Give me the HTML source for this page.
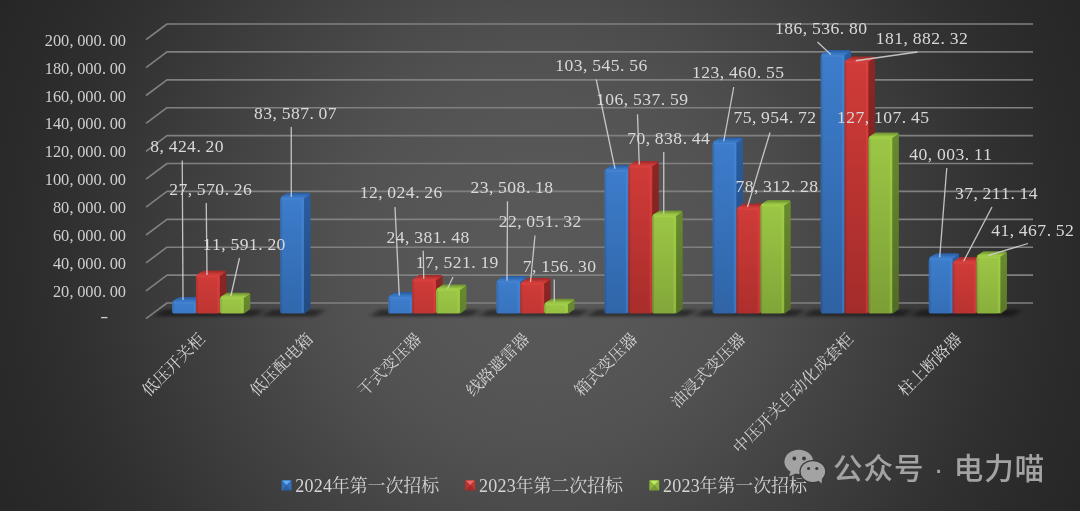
<!DOCTYPE html>
<html lang="zh-CN"><head><meta charset="utf-8"><title>chart</title>
<style>html,body{margin:0;padding:0;background:#262626;}body{width:1080px;height:511px;overflow:hidden;}svg{display:block;}</style>
</head><body>
<svg width="1080" height="511" viewBox="0 0 1080 511">
<defs>
<radialGradient id="bg" gradientUnits="userSpaceOnUse" cx="540" cy="255.5" r="597.4"><stop offset="0" stop-color="rgb(89,89,89)"/><stop offset="0.1" stop-color="rgb(88,88,88)"/><stop offset="0.206" stop-color="rgb(86,86,86)"/><stop offset="0.32" stop-color="rgb(82,82,82)"/><stop offset="0.414" stop-color="rgb(76,76,76)"/><stop offset="0.476" stop-color="rgb(71,71,71)"/><stop offset="0.625" stop-color="rgb(60,60,60)"/><stop offset="0.787" stop-color="rgb(48,48,48)"/><stop offset="0.9" stop-color="rgb(42,42,42)"/><stop offset="0.963" stop-color="rgb(40,40,40)"/><stop offset="1" stop-color="rgb(38,38,38)"/></radialGradient>
<filter id="sh" x="-20%" y="-200%" width="140%" height="500%"><feGaussianBlur stdDeviation="3 1.4"/></filter>
</defs>
<rect width="1080" height="511" fill="url(#bg)"/>
<g fill="none" stroke="#808080" stroke-width="1.65" stroke-linejoin="round">
<path d="M146.00 318.70L167.00 303.00H1033.00"/>
<path d="M146.00 290.80L167.00 275.10H1033.00"/>
<path d="M146.00 262.90L167.00 247.20H1033.00"/>
<path d="M146.00 235.00L167.00 219.30H1033.00"/>
<path d="M146.00 207.10L167.00 191.40H1033.00"/>
<path d="M146.00 179.20L167.00 163.50H1033.00"/>
<path d="M146.00 151.30L167.00 135.60H1033.00"/>
<path d="M146.00 123.40L167.00 107.70H1033.00"/>
<path d="M146.00 95.50L167.00 79.80H1033.00"/>
<path d="M146.00 67.60L167.00 51.90H1033.00"/>
<path d="M146.00 39.70L167.00 24.00H1033.00"/>
</g>
<g filter="url(#sh)" fill="#000" fill-opacity="0.46">
<path d="M154.1 316.4L255.8 316.4L264.8 309.4L163.1 309.4Z"/>
<path d="M262.1 316.4L316.0 316.4L325.0 309.4L271.1 309.4Z"/>
<path d="M370.2 316.4L471.9 316.4L480.9 309.4L379.2 309.4Z"/>
<path d="M478.4 316.4L580.0 316.4L589.0 309.4L487.4 309.4Z"/>
<path d="M586.4 316.4L688.1 316.4L697.1 309.4L595.4 309.4Z"/>
<path d="M694.5 316.4L796.2 316.4L805.2 309.4L703.5 309.4Z"/>
<path d="M802.6 316.4L904.3 316.4L913.3 309.4L811.6 309.4Z"/>
<path d="M910.8 316.4L1012.5 316.4L1021.5 309.4L919.8 309.4Z"/>
</g>
<linearGradient id="f1" gradientUnits="userSpaceOnUse" x1="0" y1="301.9" x2="0" y2="313.6"><stop offset="0" stop-color="#3d7dcc"/><stop offset="1" stop-color="#3b79c6"/></linearGradient>
<linearGradient id="s1" gradientUnits="userSpaceOnUse" x1="0" y1="301.9" x2="0" y2="313.6"><stop offset="0" stop-color="#2a5c9f"/><stop offset="1" stop-color="#28599a"/></linearGradient>
<linearGradient id="t1" gradientUnits="userSpaceOnUse" x1="0" y1="301.9" x2="0" y2="297.0"><stop offset="0.15" stop-color="#3b7ac9"/><stop offset="0.9" stop-color="#295ea4"/></linearGradient>
<path d="M195.95 302.92L201.45 298.82L201.45 308.40L195.95 312.60Z" fill="url(#s1)" stroke="url(#s1)" stroke-width="2.0" stroke-linejoin="round"/>
<path d="M173.65 301.92L179.55 298.02L200.85 298.02L194.95 301.92Z" fill="url(#t1)" stroke="url(#t1)" stroke-width="2.0" stroke-linejoin="round"/>
<rect x="172.05" y="301.92" width="23.90" height="11.68" rx="1.8" fill="url(#f1)"/>
<rect x="193.35" y="302.72" width="2.2" height="10.08" fill="#4c8cdc" fill-opacity="0.45"/>
<rect x="172.35" y="302.72" width="1.6" height="10.08" fill="#000" fill-opacity="0.10"/>
<rect x="173.25" y="302.22" width="21.50" height="1.5" rx="0.7" fill="#4c8cdc" fill-opacity="0.5"/>
<linearGradient id="f2" gradientUnits="userSpaceOnUse" x1="0" y1="275.4" x2="0" y2="313.6"><stop offset="0" stop-color="#d03b38"/><stop offset="1" stop-color="#bd3532"/></linearGradient>
<linearGradient id="s2" gradientUnits="userSpaceOnUse" x1="0" y1="275.4" x2="0" y2="313.6"><stop offset="0" stop-color="#8c2625"/><stop offset="1" stop-color="#7f2221"/></linearGradient>
<linearGradient id="t2" gradientUnits="userSpaceOnUse" x1="0" y1="275.4" x2="0" y2="270.5"><stop offset="0.15" stop-color="#d33c39"/><stop offset="0.9" stop-color="#9f2c2a"/></linearGradient>
<path d="M219.85 276.37L225.35 272.27L225.35 308.40L219.85 312.60Z" fill="url(#s2)" stroke="url(#s2)" stroke-width="2.0" stroke-linejoin="round"/>
<path d="M197.55 275.37L203.45 271.47L224.75 271.47L218.85 275.37Z" fill="url(#t2)" stroke="url(#t2)" stroke-width="2.0" stroke-linejoin="round"/>
<rect x="195.95" y="275.37" width="23.90" height="38.23" rx="1.8" fill="url(#f2)"/>
<rect x="217.25" y="276.17" width="2.2" height="36.63" fill="#e04845" fill-opacity="0.45"/>
<rect x="196.25" y="276.17" width="1.6" height="36.63" fill="#000" fill-opacity="0.10"/>
<rect x="197.15" y="275.67" width="21.50" height="1.5" rx="0.7" fill="#e04845" fill-opacity="0.5"/>
<linearGradient id="f3" gradientUnits="userSpaceOnUse" x1="0" y1="297.5" x2="0" y2="313.6"><stop offset="0" stop-color="#9cc745"/><stop offset="1" stop-color="#95be42"/></linearGradient>
<linearGradient id="s3" gradientUnits="userSpaceOnUse" x1="0" y1="297.5" x2="0" y2="313.6"><stop offset="0" stop-color="#688a2e"/><stop offset="1" stop-color="#63832c"/></linearGradient>
<linearGradient id="t3" gradientUnits="userSpaceOnUse" x1="0" y1="297.5" x2="0" y2="292.6"><stop offset="0.15" stop-color="#9ecc46"/><stop offset="0.9" stop-color="#6f9132"/></linearGradient>
<path d="M243.75 298.53L249.25 294.43L249.25 308.40L243.75 312.60Z" fill="url(#s3)" stroke="url(#s3)" stroke-width="2.0" stroke-linejoin="round"/>
<path d="M221.45 297.53L227.35 293.63L248.65 293.63L242.75 297.53Z" fill="url(#t3)" stroke="url(#t3)" stroke-width="2.0" stroke-linejoin="round"/>
<rect x="219.85" y="297.53" width="23.90" height="16.07" rx="1.8" fill="url(#f3)"/>
<rect x="241.15" y="298.33" width="2.2" height="14.47" fill="#a9d54e" fill-opacity="0.45"/>
<rect x="220.15" y="298.33" width="1.6" height="14.47" fill="#000" fill-opacity="0.10"/>
<rect x="221.05" y="297.83" width="21.50" height="1.5" rx="0.7" fill="#a9d54e" fill-opacity="0.5"/>
<linearGradient id="f4" gradientUnits="userSpaceOnUse" x1="0" y1="197.7" x2="0" y2="313.6"><stop offset="0" stop-color="#3d7dcc"/><stop offset="1" stop-color="#3167ab"/></linearGradient>
<linearGradient id="s4" gradientUnits="userSpaceOnUse" x1="0" y1="197.7" x2="0" y2="313.6"><stop offset="0" stop-color="#2a5c9f"/><stop offset="1" stop-color="#214b81"/></linearGradient>
<linearGradient id="t4" gradientUnits="userSpaceOnUse" x1="0" y1="197.7" x2="0" y2="192.8"><stop offset="0.15" stop-color="#3b7ac9"/><stop offset="0.9" stop-color="#295ea4"/></linearGradient>
<path d="M304.05 198.70L309.55 194.60L309.55 308.40L304.05 312.60Z" fill="url(#s4)" stroke="url(#s4)" stroke-width="2.0" stroke-linejoin="round"/>
<path d="M281.75 197.70L287.65 193.80L308.95 193.80L303.05 197.70Z" fill="url(#t4)" stroke="url(#t4)" stroke-width="2.0" stroke-linejoin="round"/>
<rect x="280.15" y="197.70" width="23.90" height="115.90" rx="1.8" fill="url(#f4)"/>
<rect x="301.45" y="198.50" width="2.2" height="114.30" fill="#4c8cdc" fill-opacity="0.45"/>
<rect x="280.45" y="198.50" width="1.6" height="114.30" fill="#000" fill-opacity="0.10"/>
<rect x="281.35" y="198.00" width="21.50" height="1.5" rx="0.7" fill="#4c8cdc" fill-opacity="0.5"/>
<linearGradient id="f5" gradientUnits="userSpaceOnUse" x1="0" y1="296.9" x2="0" y2="313.6"><stop offset="0" stop-color="#3d7dcc"/><stop offset="1" stop-color="#3a77c4"/></linearGradient>
<linearGradient id="s5" gradientUnits="userSpaceOnUse" x1="0" y1="296.9" x2="0" y2="313.6"><stop offset="0" stop-color="#2a5c9f"/><stop offset="1" stop-color="#285897"/></linearGradient>
<linearGradient id="t5" gradientUnits="userSpaceOnUse" x1="0" y1="296.9" x2="0" y2="292.0"><stop offset="0.15" stop-color="#3b7ac9"/><stop offset="0.9" stop-color="#295ea4"/></linearGradient>
<path d="M412.15 297.93L417.65 293.83L417.65 308.40L412.15 312.60Z" fill="url(#s5)" stroke="url(#s5)" stroke-width="2.0" stroke-linejoin="round"/>
<path d="M389.85 296.93L395.75 293.03L417.05 293.03L411.15 296.93Z" fill="url(#t5)" stroke="url(#t5)" stroke-width="2.0" stroke-linejoin="round"/>
<rect x="388.25" y="296.93" width="23.90" height="16.67" rx="1.8" fill="url(#f5)"/>
<rect x="409.55" y="297.73" width="2.2" height="15.07" fill="#4c8cdc" fill-opacity="0.45"/>
<rect x="388.55" y="297.73" width="1.6" height="15.07" fill="#000" fill-opacity="0.10"/>
<rect x="389.45" y="297.23" width="21.50" height="1.5" rx="0.7" fill="#4c8cdc" fill-opacity="0.5"/>
<linearGradient id="f6" gradientUnits="userSpaceOnUse" x1="0" y1="279.8" x2="0" y2="313.6"><stop offset="0" stop-color="#d03b38"/><stop offset="1" stop-color="#bf3533"/></linearGradient>
<linearGradient id="s6" gradientUnits="userSpaceOnUse" x1="0" y1="279.8" x2="0" y2="313.6"><stop offset="0" stop-color="#8c2625"/><stop offset="1" stop-color="#802221"/></linearGradient>
<linearGradient id="t6" gradientUnits="userSpaceOnUse" x1="0" y1="279.8" x2="0" y2="274.9"><stop offset="0.15" stop-color="#d33c39"/><stop offset="0.9" stop-color="#9f2c2a"/></linearGradient>
<path d="M436.05 280.79L441.55 276.69L441.55 308.40L436.05 312.60Z" fill="url(#s6)" stroke="url(#s6)" stroke-width="2.0" stroke-linejoin="round"/>
<path d="M413.75 279.79L419.65 275.89L440.95 275.89L435.05 279.79Z" fill="url(#t6)" stroke="url(#t6)" stroke-width="2.0" stroke-linejoin="round"/>
<rect x="412.15" y="279.79" width="23.90" height="33.81" rx="1.8" fill="url(#f6)"/>
<rect x="433.45" y="280.59" width="2.2" height="32.21" fill="#e04845" fill-opacity="0.45"/>
<rect x="412.45" y="280.59" width="1.6" height="32.21" fill="#000" fill-opacity="0.10"/>
<rect x="413.35" y="280.09" width="21.50" height="1.5" rx="0.7" fill="#e04845" fill-opacity="0.5"/>
<linearGradient id="f7" gradientUnits="userSpaceOnUse" x1="0" y1="289.3" x2="0" y2="313.6"><stop offset="0" stop-color="#9cc745"/><stop offset="1" stop-color="#92bb40"/></linearGradient>
<linearGradient id="s7" gradientUnits="userSpaceOnUse" x1="0" y1="289.3" x2="0" y2="313.6"><stop offset="0" stop-color="#688a2e"/><stop offset="1" stop-color="#61812b"/></linearGradient>
<linearGradient id="t7" gradientUnits="userSpaceOnUse" x1="0" y1="289.3" x2="0" y2="284.4"><stop offset="0.15" stop-color="#9ecc46"/><stop offset="0.9" stop-color="#6f9132"/></linearGradient>
<path d="M459.95 290.30L465.45 286.20L465.45 308.40L459.95 312.60Z" fill="url(#s7)" stroke="url(#s7)" stroke-width="2.0" stroke-linejoin="round"/>
<path d="M437.65 289.30L443.55 285.40L464.85 285.40L458.95 289.30Z" fill="url(#t7)" stroke="url(#t7)" stroke-width="2.0" stroke-linejoin="round"/>
<rect x="436.05" y="289.30" width="23.90" height="24.30" rx="1.8" fill="url(#f7)"/>
<rect x="457.35" y="290.10" width="2.2" height="22.70" fill="#a9d54e" fill-opacity="0.45"/>
<rect x="436.35" y="290.10" width="1.6" height="22.70" fill="#000" fill-opacity="0.10"/>
<rect x="437.25" y="289.60" width="21.50" height="1.5" rx="0.7" fill="#a9d54e" fill-opacity="0.5"/>
<linearGradient id="f8" gradientUnits="userSpaceOnUse" x1="0" y1="281.0" x2="0" y2="313.6"><stop offset="0" stop-color="#3d7dcc"/><stop offset="1" stop-color="#3873bd"/></linearGradient>
<linearGradient id="s8" gradientUnits="userSpaceOnUse" x1="0" y1="281.0" x2="0" y2="313.6"><stop offset="0" stop-color="#2a5c9f"/><stop offset="1" stop-color="#265492"/></linearGradient>
<linearGradient id="t8" gradientUnits="userSpaceOnUse" x1="0" y1="281.0" x2="0" y2="276.1"><stop offset="0.15" stop-color="#3b7ac9"/><stop offset="0.9" stop-color="#295ea4"/></linearGradient>
<path d="M520.25 282.00L525.75 277.90L525.75 308.40L520.25 312.60Z" fill="url(#s8)" stroke="url(#s8)" stroke-width="2.0" stroke-linejoin="round"/>
<path d="M497.95 281.00L503.85 277.10L525.15 277.10L519.25 281.00Z" fill="url(#t8)" stroke="url(#t8)" stroke-width="2.0" stroke-linejoin="round"/>
<rect x="496.35" y="281.00" width="23.90" height="32.60" rx="1.8" fill="url(#f8)"/>
<rect x="517.65" y="281.80" width="2.2" height="31.00" fill="#4c8cdc" fill-opacity="0.45"/>
<rect x="496.65" y="281.80" width="1.6" height="31.00" fill="#000" fill-opacity="0.10"/>
<rect x="497.55" y="281.30" width="21.50" height="1.5" rx="0.7" fill="#4c8cdc" fill-opacity="0.5"/>
<linearGradient id="f9" gradientUnits="userSpaceOnUse" x1="0" y1="283.0" x2="0" y2="313.6"><stop offset="0" stop-color="#d03b38"/><stop offset="1" stop-color="#c03633"/></linearGradient>
<linearGradient id="s9" gradientUnits="userSpaceOnUse" x1="0" y1="283.0" x2="0" y2="313.6"><stop offset="0" stop-color="#8c2625"/><stop offset="1" stop-color="#812322"/></linearGradient>
<linearGradient id="t9" gradientUnits="userSpaceOnUse" x1="0" y1="283.0" x2="0" y2="278.1"><stop offset="0.15" stop-color="#d33c39"/><stop offset="0.9" stop-color="#9f2c2a"/></linearGradient>
<path d="M544.15 284.02L549.65 279.92L549.65 308.40L544.15 312.60Z" fill="url(#s9)" stroke="url(#s9)" stroke-width="2.0" stroke-linejoin="round"/>
<path d="M521.85 283.02L527.75 279.12L549.05 279.12L543.15 283.02Z" fill="url(#t9)" stroke="url(#t9)" stroke-width="2.0" stroke-linejoin="round"/>
<rect x="520.25" y="283.02" width="23.90" height="30.58" rx="1.8" fill="url(#f9)"/>
<rect x="541.55" y="283.82" width="2.2" height="28.98" fill="#e04845" fill-opacity="0.45"/>
<rect x="520.55" y="283.82" width="1.6" height="28.98" fill="#000" fill-opacity="0.10"/>
<rect x="521.45" y="283.32" width="21.50" height="1.5" rx="0.7" fill="#e04845" fill-opacity="0.5"/>
<linearGradient id="f10" gradientUnits="userSpaceOnUse" x1="0" y1="303.7" x2="0" y2="313.6"><stop offset="0" stop-color="#9cc745"/><stop offset="1" stop-color="#98c143"/></linearGradient>
<linearGradient id="s10" gradientUnits="userSpaceOnUse" x1="0" y1="303.7" x2="0" y2="313.6"><stop offset="0" stop-color="#688a2e"/><stop offset="1" stop-color="#65862d"/></linearGradient>
<linearGradient id="t10" gradientUnits="userSpaceOnUse" x1="0" y1="303.7" x2="0" y2="298.8"><stop offset="0.15" stop-color="#9ecc46"/><stop offset="0.9" stop-color="#6f9132"/></linearGradient>
<path d="M568.05 304.68L573.55 300.58L573.55 308.40L568.05 312.60Z" fill="url(#s10)" stroke="url(#s10)" stroke-width="2.0" stroke-linejoin="round"/>
<path d="M545.75 303.68L551.65 299.78L572.95 299.78L567.05 303.68Z" fill="url(#t10)" stroke="url(#t10)" stroke-width="2.0" stroke-linejoin="round"/>
<rect x="544.15" y="303.68" width="23.90" height="9.92" rx="1.8" fill="url(#f10)"/>
<rect x="565.45" y="304.48" width="2.2" height="8.32" fill="#a9d54e" fill-opacity="0.45"/>
<rect x="544.45" y="304.48" width="1.6" height="8.32" fill="#000" fill-opacity="0.10"/>
<rect x="545.35" y="303.98" width="21.50" height="1.5" rx="0.7" fill="#a9d54e" fill-opacity="0.5"/>
<linearGradient id="f11" gradientUnits="userSpaceOnUse" x1="0" y1="170.0" x2="0" y2="313.6"><stop offset="0" stop-color="#3d7dcc"/><stop offset="1" stop-color="#3065a8"/></linearGradient>
<linearGradient id="s11" gradientUnits="userSpaceOnUse" x1="0" y1="170.0" x2="0" y2="313.6"><stop offset="0" stop-color="#2a5c9f"/><stop offset="1" stop-color="#21497f"/></linearGradient>
<linearGradient id="t11" gradientUnits="userSpaceOnUse" x1="0" y1="170.0" x2="0" y2="165.1"><stop offset="0.15" stop-color="#3b7ac9"/><stop offset="0.9" stop-color="#295ea4"/></linearGradient>
<path d="M628.35 171.02L633.85 166.92L633.85 308.40L628.35 312.60Z" fill="url(#s11)" stroke="url(#s11)" stroke-width="2.0" stroke-linejoin="round"/>
<path d="M606.05 170.02L611.95 166.12L633.25 166.12L627.35 170.02Z" fill="url(#t11)" stroke="url(#t11)" stroke-width="2.0" stroke-linejoin="round"/>
<rect x="604.45" y="170.02" width="23.90" height="143.58" rx="1.8" fill="url(#f11)"/>
<rect x="625.75" y="170.82" width="2.2" height="141.98" fill="#4c8cdc" fill-opacity="0.45"/>
<rect x="604.75" y="170.82" width="1.6" height="141.98" fill="#000" fill-opacity="0.10"/>
<rect x="605.65" y="170.32" width="21.50" height="1.5" rx="0.7" fill="#4c8cdc" fill-opacity="0.5"/>
<linearGradient id="f12" gradientUnits="userSpaceOnUse" x1="0" y1="165.9" x2="0" y2="313.6"><stop offset="0" stop-color="#d03b38"/><stop offset="1" stop-color="#a82d2b"/></linearGradient>
<linearGradient id="s12" gradientUnits="userSpaceOnUse" x1="0" y1="165.9" x2="0" y2="313.6"><stop offset="0" stop-color="#8c2625"/><stop offset="1" stop-color="#701d1c"/></linearGradient>
<linearGradient id="t12" gradientUnits="userSpaceOnUse" x1="0" y1="165.9" x2="0" y2="161.0"><stop offset="0.15" stop-color="#d33c39"/><stop offset="0.9" stop-color="#9f2c2a"/></linearGradient>
<path d="M652.25 166.87L657.75 162.77L657.75 308.40L652.25 312.60Z" fill="url(#s12)" stroke="url(#s12)" stroke-width="2.0" stroke-linejoin="round"/>
<path d="M629.95 165.87L635.85 161.97L657.15 161.97L651.25 165.87Z" fill="url(#t12)" stroke="url(#t12)" stroke-width="2.0" stroke-linejoin="round"/>
<rect x="628.35" y="165.87" width="23.90" height="147.73" rx="1.8" fill="url(#f12)"/>
<rect x="649.65" y="166.67" width="2.2" height="146.13" fill="#e04845" fill-opacity="0.45"/>
<rect x="628.65" y="166.67" width="1.6" height="146.13" fill="#000" fill-opacity="0.10"/>
<rect x="629.55" y="166.17" width="21.50" height="1.5" rx="0.7" fill="#e04845" fill-opacity="0.5"/>
<linearGradient id="f13" gradientUnits="userSpaceOnUse" x1="0" y1="215.4" x2="0" y2="313.6"><stop offset="0" stop-color="#9cc745"/><stop offset="1" stop-color="#82a639"/></linearGradient>
<linearGradient id="s13" gradientUnits="userSpaceOnUse" x1="0" y1="215.4" x2="0" y2="313.6"><stop offset="0" stop-color="#688a2e"/><stop offset="1" stop-color="#567126"/></linearGradient>
<linearGradient id="t13" gradientUnits="userSpaceOnUse" x1="0" y1="215.4" x2="0" y2="210.5"><stop offset="0.15" stop-color="#9ecc46"/><stop offset="0.9" stop-color="#6f9132"/></linearGradient>
<path d="M676.15 216.37L681.65 212.27L681.65 308.40L676.15 312.60Z" fill="url(#s13)" stroke="url(#s13)" stroke-width="2.0" stroke-linejoin="round"/>
<path d="M653.85 215.37L659.75 211.47L681.05 211.47L675.15 215.37Z" fill="url(#t13)" stroke="url(#t13)" stroke-width="2.0" stroke-linejoin="round"/>
<rect x="652.25" y="215.37" width="23.90" height="98.23" rx="1.8" fill="url(#f13)"/>
<rect x="673.55" y="216.17" width="2.2" height="96.63" fill="#a9d54e" fill-opacity="0.45"/>
<rect x="652.55" y="216.17" width="1.6" height="96.63" fill="#000" fill-opacity="0.10"/>
<rect x="653.45" y="215.67" width="21.50" height="1.5" rx="0.7" fill="#a9d54e" fill-opacity="0.5"/>
<linearGradient id="f14" gradientUnits="userSpaceOnUse" x1="0" y1="142.4" x2="0" y2="313.6"><stop offset="0" stop-color="#3d7dcc"/><stop offset="1" stop-color="#3064a6"/></linearGradient>
<linearGradient id="s14" gradientUnits="userSpaceOnUse" x1="0" y1="142.4" x2="0" y2="313.6"><stop offset="0" stop-color="#2a5c9f"/><stop offset="1" stop-color="#20487d"/></linearGradient>
<linearGradient id="t14" gradientUnits="userSpaceOnUse" x1="0" y1="142.4" x2="0" y2="137.5"><stop offset="0.15" stop-color="#3b7ac9"/><stop offset="0.9" stop-color="#295ea4"/></linearGradient>
<path d="M736.45 143.41L741.95 139.31L741.95 308.40L736.45 312.60Z" fill="url(#s14)" stroke="url(#s14)" stroke-width="2.0" stroke-linejoin="round"/>
<path d="M714.15 142.41L720.05 138.51L741.35 138.51L735.45 142.41Z" fill="url(#t14)" stroke="url(#t14)" stroke-width="2.0" stroke-linejoin="round"/>
<rect x="712.55" y="142.41" width="23.90" height="171.19" rx="1.8" fill="url(#f14)"/>
<rect x="733.85" y="143.21" width="2.2" height="169.59" fill="#4c8cdc" fill-opacity="0.45"/>
<rect x="712.85" y="143.21" width="1.6" height="169.59" fill="#000" fill-opacity="0.10"/>
<rect x="713.75" y="142.71" width="21.50" height="1.5" rx="0.7" fill="#4c8cdc" fill-opacity="0.5"/>
<linearGradient id="f15" gradientUnits="userSpaceOnUse" x1="0" y1="208.3" x2="0" y2="313.6"><stop offset="0" stop-color="#d03b38"/><stop offset="1" stop-color="#ad2f2d"/></linearGradient>
<linearGradient id="s15" gradientUnits="userSpaceOnUse" x1="0" y1="208.3" x2="0" y2="313.6"><stop offset="0" stop-color="#8c2625"/><stop offset="1" stop-color="#731e1d"/></linearGradient>
<linearGradient id="t15" gradientUnits="userSpaceOnUse" x1="0" y1="208.3" x2="0" y2="203.4"><stop offset="0.15" stop-color="#d33c39"/><stop offset="0.9" stop-color="#9f2c2a"/></linearGradient>
<path d="M760.35 209.28L765.85 205.18L765.85 308.40L760.35 312.60Z" fill="url(#s15)" stroke="url(#s15)" stroke-width="2.0" stroke-linejoin="round"/>
<path d="M738.05 208.28L743.95 204.38L765.25 204.38L759.35 208.28Z" fill="url(#t15)" stroke="url(#t15)" stroke-width="2.0" stroke-linejoin="round"/>
<rect x="736.45" y="208.28" width="23.90" height="105.32" rx="1.8" fill="url(#f15)"/>
<rect x="757.75" y="209.08" width="2.2" height="103.72" fill="#e04845" fill-opacity="0.45"/>
<rect x="736.75" y="209.08" width="1.6" height="103.72" fill="#000" fill-opacity="0.10"/>
<rect x="737.65" y="208.58" width="21.50" height="1.5" rx="0.7" fill="#e04845" fill-opacity="0.5"/>
<linearGradient id="f16" gradientUnits="userSpaceOnUse" x1="0" y1="205.0" x2="0" y2="313.6"><stop offset="0" stop-color="#9cc745"/><stop offset="1" stop-color="#80a538"/></linearGradient>
<linearGradient id="s16" gradientUnits="userSpaceOnUse" x1="0" y1="205.0" x2="0" y2="313.6"><stop offset="0" stop-color="#688a2e"/><stop offset="1" stop-color="#567026"/></linearGradient>
<linearGradient id="t16" gradientUnits="userSpaceOnUse" x1="0" y1="205.0" x2="0" y2="200.1"><stop offset="0.15" stop-color="#9ecc46"/><stop offset="0.9" stop-color="#6f9132"/></linearGradient>
<path d="M784.25 206.01L789.75 201.91L789.75 308.40L784.25 312.60Z" fill="url(#s16)" stroke="url(#s16)" stroke-width="2.0" stroke-linejoin="round"/>
<path d="M761.95 205.01L767.85 201.11L789.15 201.11L783.25 205.01Z" fill="url(#t16)" stroke="url(#t16)" stroke-width="2.0" stroke-linejoin="round"/>
<rect x="760.35" y="205.01" width="23.90" height="108.59" rx="1.8" fill="url(#f16)"/>
<rect x="781.65" y="205.81" width="2.2" height="106.99" fill="#a9d54e" fill-opacity="0.45"/>
<rect x="760.65" y="205.81" width="1.6" height="106.99" fill="#000" fill-opacity="0.10"/>
<rect x="761.55" y="205.31" width="21.50" height="1.5" rx="0.7" fill="#a9d54e" fill-opacity="0.5"/>
<linearGradient id="f17" gradientUnits="userSpaceOnUse" x1="0" y1="54.9" x2="0" y2="313.6"><stop offset="0" stop-color="#3d7dcc"/><stop offset="1" stop-color="#2e62a3"/></linearGradient>
<linearGradient id="s17" gradientUnits="userSpaceOnUse" x1="0" y1="54.9" x2="0" y2="313.6"><stop offset="0" stop-color="#2a5c9f"/><stop offset="1" stop-color="#1f477a"/></linearGradient>
<linearGradient id="t17" gradientUnits="userSpaceOnUse" x1="0" y1="54.9" x2="0" y2="50.0"><stop offset="0.15" stop-color="#3b7ac9"/><stop offset="0.9" stop-color="#295ea4"/></linearGradient>
<path d="M844.55 55.94L850.05 51.84L850.05 308.40L844.55 312.60Z" fill="url(#s17)" stroke="url(#s17)" stroke-width="2.0" stroke-linejoin="round"/>
<path d="M822.25 54.94L828.15 51.04L849.45 51.04L843.55 54.94Z" fill="url(#t17)" stroke="url(#t17)" stroke-width="2.0" stroke-linejoin="round"/>
<rect x="820.65" y="54.94" width="23.90" height="258.66" rx="1.8" fill="url(#f17)"/>
<rect x="841.95" y="55.74" width="2.2" height="257.06" fill="#4c8cdc" fill-opacity="0.45"/>
<rect x="820.95" y="55.74" width="1.6" height="257.06" fill="#000" fill-opacity="0.10"/>
<rect x="821.85" y="55.24" width="21.50" height="1.5" rx="0.7" fill="#4c8cdc" fill-opacity="0.5"/>
<linearGradient id="f18" gradientUnits="userSpaceOnUse" x1="0" y1="61.4" x2="0" y2="313.6"><stop offset="0" stop-color="#d03b38"/><stop offset="1" stop-color="#a32c2a"/></linearGradient>
<linearGradient id="s18" gradientUnits="userSpaceOnUse" x1="0" y1="61.4" x2="0" y2="313.6"><stop offset="0" stop-color="#8c2625"/><stop offset="1" stop-color="#6c1c1b"/></linearGradient>
<linearGradient id="t18" gradientUnits="userSpaceOnUse" x1="0" y1="61.4" x2="0" y2="56.5"><stop offset="0.15" stop-color="#d33c39"/><stop offset="0.9" stop-color="#9f2c2a"/></linearGradient>
<path d="M868.45 62.40L873.95 58.30L873.95 308.40L868.45 312.60Z" fill="url(#s18)" stroke="url(#s18)" stroke-width="2.0" stroke-linejoin="round"/>
<path d="M846.15 61.40L852.05 57.50L873.35 57.50L867.45 61.40Z" fill="url(#t18)" stroke="url(#t18)" stroke-width="2.0" stroke-linejoin="round"/>
<rect x="844.55" y="61.40" width="23.90" height="252.20" rx="1.8" fill="url(#f18)"/>
<rect x="865.85" y="62.20" width="2.2" height="250.60" fill="#e04845" fill-opacity="0.45"/>
<rect x="844.85" y="62.20" width="1.6" height="250.60" fill="#000" fill-opacity="0.10"/>
<rect x="845.75" y="61.70" width="21.50" height="1.5" rx="0.7" fill="#e04845" fill-opacity="0.5"/>
<linearGradient id="f19" gradientUnits="userSpaceOnUse" x1="0" y1="137.3" x2="0" y2="313.6"><stop offset="0" stop-color="#9cc745"/><stop offset="1" stop-color="#7b9e36"/></linearGradient>
<linearGradient id="s19" gradientUnits="userSpaceOnUse" x1="0" y1="137.3" x2="0" y2="313.6"><stop offset="0" stop-color="#688a2e"/><stop offset="1" stop-color="#526b24"/></linearGradient>
<linearGradient id="t19" gradientUnits="userSpaceOnUse" x1="0" y1="137.3" x2="0" y2="132.4"><stop offset="0.15" stop-color="#9ecc46"/><stop offset="0.9" stop-color="#6f9132"/></linearGradient>
<path d="M892.35 138.35L897.85 134.25L897.85 308.40L892.35 312.60Z" fill="url(#s19)" stroke="url(#s19)" stroke-width="2.0" stroke-linejoin="round"/>
<path d="M870.05 137.35L875.95 133.45L897.25 133.45L891.35 137.35Z" fill="url(#t19)" stroke="url(#t19)" stroke-width="2.0" stroke-linejoin="round"/>
<rect x="868.45" y="137.35" width="23.90" height="176.25" rx="1.8" fill="url(#f19)"/>
<rect x="889.75" y="138.15" width="2.2" height="174.65" fill="#a9d54e" fill-opacity="0.45"/>
<rect x="868.75" y="138.15" width="1.6" height="174.65" fill="#000" fill-opacity="0.10"/>
<rect x="869.65" y="137.65" width="21.50" height="1.5" rx="0.7" fill="#a9d54e" fill-opacity="0.5"/>
<linearGradient id="f20" gradientUnits="userSpaceOnUse" x1="0" y1="258.1" x2="0" y2="313.6"><stop offset="0" stop-color="#3d7dcc"/><stop offset="1" stop-color="#356eb6"/></linearGradient>
<linearGradient id="s20" gradientUnits="userSpaceOnUse" x1="0" y1="258.1" x2="0" y2="313.6"><stop offset="0" stop-color="#2a5c9f"/><stop offset="1" stop-color="#24518b"/></linearGradient>
<linearGradient id="t20" gradientUnits="userSpaceOnUse" x1="0" y1="258.1" x2="0" y2="253.2"><stop offset="0.15" stop-color="#3b7ac9"/><stop offset="0.9" stop-color="#295ea4"/></linearGradient>
<path d="M952.65 259.13L958.15 255.03L958.15 308.40L952.65 312.60Z" fill="url(#s20)" stroke="url(#s20)" stroke-width="2.0" stroke-linejoin="round"/>
<path d="M930.35 258.13L936.25 254.23L957.55 254.23L951.65 258.13Z" fill="url(#t20)" stroke="url(#t20)" stroke-width="2.0" stroke-linejoin="round"/>
<rect x="928.75" y="258.13" width="23.90" height="55.47" rx="1.8" fill="url(#f20)"/>
<rect x="950.05" y="258.93" width="2.2" height="53.87" fill="#4c8cdc" fill-opacity="0.45"/>
<rect x="929.05" y="258.93" width="1.6" height="53.87" fill="#000" fill-opacity="0.10"/>
<rect x="929.95" y="258.43" width="21.50" height="1.5" rx="0.7" fill="#4c8cdc" fill-opacity="0.5"/>
<linearGradient id="f21" gradientUnits="userSpaceOnUse" x1="0" y1="262.0" x2="0" y2="313.6"><stop offset="0" stop-color="#d03b38"/><stop offset="1" stop-color="#b93331"/></linearGradient>
<linearGradient id="s21" gradientUnits="userSpaceOnUse" x1="0" y1="262.0" x2="0" y2="313.6"><stop offset="0" stop-color="#8c2625"/><stop offset="1" stop-color="#7c2120"/></linearGradient>
<linearGradient id="t21" gradientUnits="userSpaceOnUse" x1="0" y1="262.0" x2="0" y2="257.1"><stop offset="0.15" stop-color="#d33c39"/><stop offset="0.9" stop-color="#9f2c2a"/></linearGradient>
<path d="M976.55 263.00L982.05 258.90L982.05 308.40L976.55 312.60Z" fill="url(#s21)" stroke="url(#s21)" stroke-width="2.0" stroke-linejoin="round"/>
<path d="M954.25 262.00L960.15 258.10L981.45 258.10L975.55 262.00Z" fill="url(#t21)" stroke="url(#t21)" stroke-width="2.0" stroke-linejoin="round"/>
<rect x="952.65" y="262.00" width="23.90" height="51.60" rx="1.8" fill="url(#f21)"/>
<rect x="973.95" y="262.80" width="2.2" height="50.00" fill="#e04845" fill-opacity="0.45"/>
<rect x="952.95" y="262.80" width="1.6" height="50.00" fill="#000" fill-opacity="0.10"/>
<rect x="953.85" y="262.30" width="21.50" height="1.5" rx="0.7" fill="#e04845" fill-opacity="0.5"/>
<linearGradient id="f22" gradientUnits="userSpaceOnUse" x1="0" y1="256.1" x2="0" y2="313.6"><stop offset="0" stop-color="#9cc745"/><stop offset="1" stop-color="#89af3c"/></linearGradient>
<linearGradient id="s22" gradientUnits="userSpaceOnUse" x1="0" y1="256.1" x2="0" y2="313.6"><stop offset="0" stop-color="#688a2e"/><stop offset="1" stop-color="#5b7828"/></linearGradient>
<linearGradient id="t22" gradientUnits="userSpaceOnUse" x1="0" y1="256.1" x2="0" y2="251.2"><stop offset="0.15" stop-color="#9ecc46"/><stop offset="0.9" stop-color="#6f9132"/></linearGradient>
<path d="M1000.45 257.10L1005.95 253.00L1005.95 308.40L1000.45 312.60Z" fill="url(#s22)" stroke="url(#s22)" stroke-width="2.0" stroke-linejoin="round"/>
<path d="M978.15 256.10L984.05 252.20L1005.35 252.20L999.45 256.10Z" fill="url(#t22)" stroke="url(#t22)" stroke-width="2.0" stroke-linejoin="round"/>
<rect x="976.55" y="256.10" width="23.90" height="57.50" rx="1.8" fill="url(#f22)"/>
<rect x="997.85" y="256.90" width="2.2" height="55.90" fill="#a9d54e" fill-opacity="0.45"/>
<rect x="976.85" y="256.90" width="1.6" height="55.90" fill="#000" fill-opacity="0.10"/>
<rect x="977.75" y="256.40" width="21.50" height="1.5" rx="0.7" fill="#a9d54e" fill-opacity="0.5"/>
<g stroke="#d2d2d2" stroke-opacity="0.9" stroke-width="1.3" fill="none">
<path d="M182.25 160.5L183 300"/>
<path d="M206.25 203L207 275"/>
<path d="M239.5 258L230.75 296.25"/>
<path d="M291.25 127L291.25 197"/>
<path d="M395 207L399.25 295.5"/>
<path d="M423.25 250.75L423.75 278.75"/>
<path d="M453 277L447.5 288.75"/>
<path d="M507.5 201.25L507 280.75"/>
<path d="M535 235.5L530.5 282"/>
<path d="M554.25 279.5L554.25 302"/>
<path d="M596.25 79.5L615 168.75"/>
<path d="M637.5 114.25L639.25 164.5"/>
<path d="M663.75 152L663.75 213.75"/>
<path d="M733.75 87L723.75 141.25"/>
<path d="M770 132.5L747.5 207"/>
<path d="M817.5 42L830.75 54.5"/>
<path d="M917.5 52L855.75 60.75"/>
<path d="M946.75 168L939.7 257.4"/>
<path d="M992 207L963.6 261.3"/>
<path d="M1028 243.5L988.5 255.4"/>
</g>
<g font-family="'Liberation Serif','Noto Serif CJK SC',serif">
<text x="150.20 159.51 168.66 177.89 187.12 196.43 205.58 214.81" y="152.20" font-size="17.6" fill="#d9d9d9">8,424.20</text>
<text x="169.18 178.41 187.73 196.87 206.10 215.33 224.65 233.79 243.02" y="194.70" font-size="17.6" fill="#d9d9d9">27,570.26</text>
<text x="202.78 212.01 221.33 230.47 239.70 248.93 258.25 267.39 276.62" y="250.20" font-size="17.6" fill="#d9d9d9">11,591.20</text>
<text x="253.98 263.21 272.53 281.67 290.90 300.13 309.45 318.59 327.82" y="118.95" font-size="17.6" fill="#d9d9d9">83,587.07</text>
<text x="359.68 368.91 378.22 387.37 396.60 405.83 415.14 424.29 433.52" y="198.45" font-size="17.6" fill="#d9d9d9">12,024.26</text>
<text x="386.58 395.81 405.12 414.27 423.50 432.73 442.04 451.19 460.42" y="243.45" font-size="17.6" fill="#d9d9d9">24,381.48</text>
<text x="415.78 425.01 434.32 443.47 452.70 461.93 471.25 480.39 489.62" y="268.45" font-size="17.6" fill="#d9d9d9">17,521.19</text>
<text x="470.43 479.66 488.97 498.12 507.35 516.58 525.89 535.04 544.27" y="193.45" font-size="17.6" fill="#d9d9d9">23,508.18</text>
<text x="498.68 507.91 517.22 526.37 535.60 544.83 554.14 563.29 572.52" y="227.20" font-size="17.6" fill="#d9d9d9">22,051.32</text>
<text x="522.70 532.01 541.16 550.39 559.62 568.93 578.08 587.31" y="272.20" font-size="17.6" fill="#d9d9d9">7,156.30</text>
<text x="555.32 564.55 573.78 583.09 592.24 601.47 610.70 620.01 629.16 638.39" y="70.95" font-size="17.6" fill="#d9d9d9">103,545.56</text>
<text x="596.07 605.30 614.53 623.84 632.99 642.22 651.45 660.76 669.91 679.14" y="105.45" font-size="17.6" fill="#d9d9d9">106,537.59</text>
<text x="627.18 636.41 645.73 654.87 664.10 673.33 682.64 691.79 701.02" y="144.20" font-size="17.6" fill="#d9d9d9">70,838.44</text>
<text x="692.07 701.30 710.53 719.84 728.99 738.22 747.45 756.76 765.91 775.14" y="78.45" font-size="17.6" fill="#d9d9d9">123,460.55</text>
<text x="733.43 742.66 751.98 761.12 770.35 779.58 788.89 798.04 807.27" y="122.70" font-size="17.6" fill="#d9d9d9">75,954.72</text>
<text x="735.43 744.66 753.98 763.12 772.35 781.58 790.89 800.04 809.27" y="191.70" font-size="17.6" fill="#d9d9d9">78,312.28</text>
<text x="775.07 784.30 793.53 802.84 811.99 821.22 830.45 839.76 848.91 858.14" y="33.70" font-size="17.6" fill="#d9d9d9">186,536.80</text>
<text x="875.82 885.05 894.28 903.59 912.74 921.97 931.20 940.51 949.66 958.89" y="43.95" font-size="17.6" fill="#d9d9d9">181,882.32</text>
<text x="837.07 846.30 855.53 864.84 873.99 883.22 892.45 901.76 910.91 920.14" y="123.45" font-size="17.6" fill="#d9d9d9">127,107.45</text>
<text x="909.28 918.51 927.83 936.97 946.20 955.43 964.75 973.89 983.12" y="159.70" font-size="17.6" fill="#d9d9d9">40,003.11</text>
<text x="954.93 964.16 973.48 982.62 991.85 1001.08 1010.39 1019.54 1028.77" y="199.20" font-size="17.6" fill="#d9d9d9">37,211.14</text>
<text x="991.18 1000.41 1009.73 1018.87 1028.10 1037.33 1046.64 1055.79 1065.02" y="235.95" font-size="17.6" fill="#d9d9d9">41,467.52</text>
<text x="52.88 61.00 69.46 77.24 85.36 93.48 101.94 109.72 117.84" y="296.80" font-size="16.4" fill="#cfcfcf">20,000.00</text>
<text x="52.88 61.00 69.46 77.24 85.36 93.48 101.94 109.72 117.84" y="268.90" font-size="16.4" fill="#cfcfcf">40,000.00</text>
<text x="52.88 61.00 69.46 77.24 85.36 93.48 101.94 109.72 117.84" y="241.00" font-size="16.4" fill="#cfcfcf">60,000.00</text>
<text x="52.88 61.00 69.46 77.24 85.36 93.48 101.94 109.72 117.84" y="213.10" font-size="16.4" fill="#cfcfcf">80,000.00</text>
<text x="44.76 52.88 61.00 69.46 77.24 85.36 93.48 101.94 109.72 117.84" y="185.20" font-size="16.4" fill="#cfcfcf">100,000.00</text>
<text x="44.76 52.88 61.00 69.46 77.24 85.36 93.48 101.94 109.72 117.84" y="157.30" font-size="16.4" fill="#cfcfcf">120,000.00</text>
<text x="44.76 52.88 61.00 69.46 77.24 85.36 93.48 101.94 109.72 117.84" y="129.40" font-size="16.4" fill="#cfcfcf">140,000.00</text>
<text x="44.76 52.88 61.00 69.46 77.24 85.36 93.48 101.94 109.72 117.84" y="101.50" font-size="16.4" fill="#cfcfcf">160,000.00</text>
<text x="44.76 52.88 61.00 69.46 77.24 85.36 93.48 101.94 109.72 117.84" y="73.60" font-size="16.4" fill="#cfcfcf">180,000.00</text>
<text x="44.76 52.88 61.00 69.46 77.24 85.36 93.48 101.94 109.72 117.84" y="45.70" font-size="16.4" fill="#cfcfcf">200,000.00</text>
<text x="100.3" y="322.2" font-size="16.2" fill="#cfcfcf" textLength="8" lengthAdjust="spacingAndGlyphs">-</text>
<text transform="translate(198.20 332.20) rotate(-45)" text-anchor="end" x="0" y="11" font-size="16.2" font-weight="400" fill="#d2d2d2">低压开关柜</text>
<text transform="translate(306.25 332.20) rotate(-45)" text-anchor="end" x="0" y="11" font-size="16.2" font-weight="400" fill="#d2d2d2">低压配电箱</text>
<text transform="translate(414.30 332.20) rotate(-45)" text-anchor="end" x="0" y="11" font-size="16.2" font-weight="400" fill="#d2d2d2">干式变压器</text>
<text transform="translate(522.35 332.20) rotate(-45)" text-anchor="end" x="0" y="11" font-size="16.2" font-weight="400" fill="#d2d2d2">线路避雷器</text>
<text transform="translate(630.40 332.20) rotate(-45)" text-anchor="end" x="0" y="11" font-size="16.2" font-weight="400" fill="#d2d2d2">箱式变压器</text>
<text transform="translate(738.45 332.20) rotate(-45)" text-anchor="end" x="0" y="11" font-size="16.2" font-weight="400" fill="#d2d2d2">油浸式变压器</text>
<text transform="translate(846.50 332.20) rotate(-45)" text-anchor="end" x="0" y="11" font-size="16.2" font-weight="400" fill="#d2d2d2">中压开关自动化成套柜</text>
<text transform="translate(954.55 332.20) rotate(-45)" text-anchor="end" x="0" y="11" font-size="16.2" font-weight="400" fill="#d2d2d2">柱上断路器</text>
<rect x="281.75" y="480.2" width="9.6" height="10.3" rx="0.6" fill="#2e61a2"/>
<path d="M281.75 480.2L286.55 484.938L281.75 490.5Z" fill="#3570bb"/>
<path d="M291.35 480.2L286.55 484.938L291.35 490.5Z" fill="#3570bb"/>
<path d="M282.15 480.5H290.95000000000005L286.55 484.938Z" fill="#62aef6"/>
<text x="295.15 304.40 313.65 322.90 331.75 349.65 367.55 385.45 403.35 421.25" y="492.2" font-size="18.0" fill="#d4d4d4">2024年第一次招标</text>
<rect x="465.5" y="480.2" width="9.6" height="10.3" rx="0.6" fill="#a12b29"/>
<path d="M465.5 480.2L470.3 484.938L465.5 490.5Z" fill="#bd3431"/>
<path d="M475.1 480.2L470.3 484.938L475.1 490.5Z" fill="#bd3431"/>
<path d="M465.9 480.5H474.70000000000005L470.3 484.938Z" fill="#f26a63"/>
<text x="478.90 488.15 497.40 506.65 515.50 533.40 551.30 569.20 587.10 605.00" y="492.2" font-size="18.0" fill="#d4d4d4">2023年第二次招标</text>
<rect x="649.5" y="480.2" width="9.6" height="10.3" rx="0.6" fill="#789a34"/>
<path d="M649.5 480.2L654.3 484.938L649.5 490.5Z" fill="#8db63f"/>
<path d="M659.1 480.2L654.3 484.938L659.1 490.5Z" fill="#8db63f"/>
<path d="M649.9 480.5H658.7L654.3 484.938Z" fill="#c2ec62"/>
<text x="662.90 672.15 681.40 690.65 699.50 717.40 735.30 753.20 771.10 789.00" y="492.2" font-size="18.0" fill="#d4d4d4">2023年第一次招标</text>
</g>
<g>
<path d="M790.6 471.2L789.2 476.2L796 473.4Z" fill="#a3a3a3"/>
<ellipse cx="798.8" cy="461.8" rx="14.4" ry="12.1" fill="#a3a3a3"/>
<circle cx="794.3" cy="458.5" r="1.9" fill="#3a3a3a"/><circle cx="804" cy="458.5" r="1.9" fill="#3a3a3a"/>
<ellipse cx="812.9" cy="471.6" rx="13.5" ry="11.7" fill="#3a3a3a"/>
<path d="M818.2 480.2L821.4 483.4L822.3 478.4Z" fill="#a3a3a3"/>
<ellipse cx="812.9" cy="471.6" rx="12.2" ry="10.4" fill="#a3a3a3"/>
<circle cx="808.6" cy="468.5" r="1.6" fill="#3a3a3a"/><circle cx="816.8" cy="468.5" r="1.6" fill="#3a3a3a"/>
</g>
<text x="833" y="478.5" font-family="'Liberation Sans','Noto Sans CJK SC',sans-serif" font-size="29.5" font-weight="500" fill="#a3a3a3" letter-spacing="1">公众号 · 电力喵</text>
</svg>
</body></html>
